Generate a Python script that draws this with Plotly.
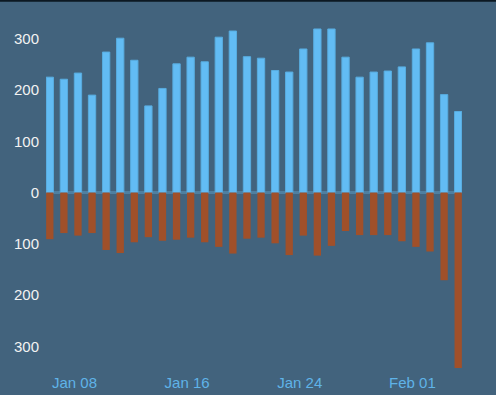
import pandas as pd
import plotly.graph_objects as go

# Data
dates = pd.date_range("2024-01-06 06:00", periods=30, freq="D")
up_values = [225, 221, 233, 190, 274, 301, 258, 169, 203, 251,
             264, 255, 303, 315, 265, 262, 238, 235, 280, 319,
             319, 264, 225, 235, 237, 245, 280, 292, 191, 158]
down_values = [91, 79, 84, 79, 112, 118, 97, 87, 94, 92,
               88, 97, 106, 119, 90, 88, 99, 122, 84, 123,
               104, 75, 83, 83, 83, 95, 106, 115, 171, 342]
y_tickvals = [-300, -200, -100, 0, 100, 200, 300]
y_ticktext = ["300", "200", "100", "0", "100", "200", "300"]
x_tickvals = ["2024-01-08", "2024-01-16", "2024-01-24", "2024-02-01"]
x_ticktext = ["Jan 08", "Jan 16", "Jan 24", "Feb 01"]

BG = "#42637d"
BLUE = "#62bcf4"
BROWN = "#a0502a"
DAY_MS = 86400000
bar_w = 0.52 * DAY_MS

fig = go.Figure()
fig.add_trace(go.Bar(x=dates, y=up_values, width=bar_w,
                     marker=dict(color=BLUE, line=dict(color="#58acdf", width=1)),
                     name="up"))
fig.add_trace(go.Bar(x=dates, y=[-v for v in down_values], width=bar_w,
                     marker=dict(color=BROWN, line=dict(width=0)),
                     name="down"))

pad = pd.Timedelta(hours=0.27 * 24)
fig.update_layout(
    width=496, height=395,
    margin=dict(l=46, r=34, t=10, b=23, autoexpand=False),
    paper_bgcolor=BG, plot_bgcolor=BG,
    barmode="relative",
    showlegend=False,
    font=dict(family="Liberation Sans, Arial, sans-serif", size=15),
    xaxis=dict(
        type="date", automargin=False,
        range=[dates[0] - pad, dates[-1] + pad],
        tickvals=x_tickvals, ticktext=x_ticktext,
        showgrid=False, zeroline=False, showline=False, ticks="",
        tickfont=dict(color="#5fb3e8", size=15),
    ),
    yaxis=dict(
        automargin=False,
        range=[-350, 356],
        tickvals=y_tickvals, ticktext=y_ticktext,
        showgrid=False, showline=False, ticks="",
        ticklabelstandoff=6,
        zeroline=True, zerolinecolor="#4f7fa0", zerolinewidth=2.5,
        tickfont=dict(color="#f2f2f2", size=15),
    ),
    shapes=[dict(type="rect", xref="paper", yref="paper", layer="above",
                 x0=-0.12, x1=1.1, y0=1 + 8.3 / 362, y1=1 + 10.5 / 362,
                 fillcolor="#0c1822", line=dict(width=0))],
)

fig.write_html("out.html", config={"displayModeBar": False},
               post_script="document.body.style.margin='0';")
